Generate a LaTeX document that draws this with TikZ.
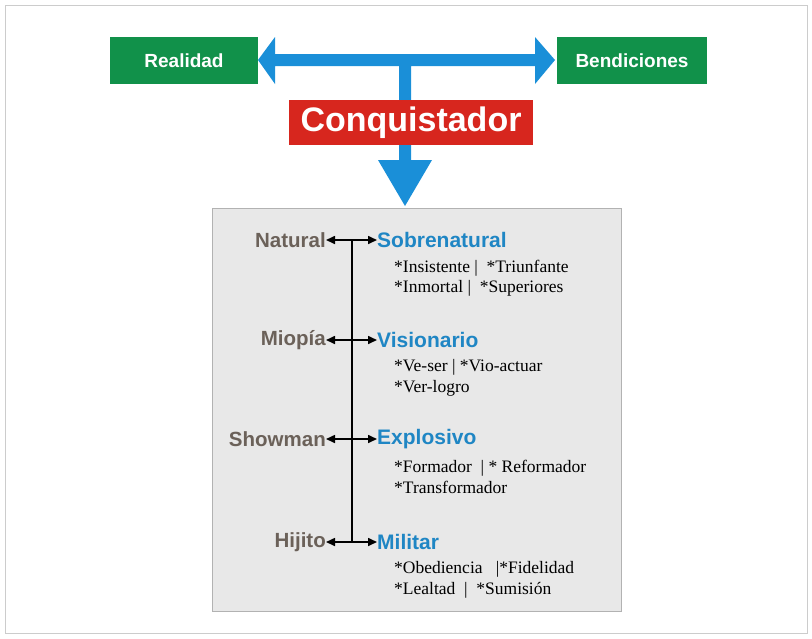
\documentclass[tikz,border=0pt]{standalone}
\usepackage{fontspec}
\setmainfont{Liberation Serif}
\setsansfont{Liberation Sans}
\usetikzlibrary{arrows.meta}
\definecolor{gr}{HTML}{11914A}
\definecolor{rd}{HTML}{D7261E}
\definecolor{bl}{HTML}{1A8FD8}
\definecolor{tb}{HTML}{1F86C4}
\definecolor{br}{HTML}{6B6159}
\begin{document}
\begin{tikzpicture}[x=1pt,y=-1pt,
  gbox/.style={fill=gr,text=white,font=\sffamily\bfseries\fontsize{19}{21}\selectfont,minimum width=148pt,minimum height=47pt,inner sep=0pt},
  lab/.style={anchor=east,text=br,font=\sffamily\bfseries\fontsize{20.5}{22}\selectfont,inner sep=0pt},
  rlab/.style={anchor=west,text=tb,font=\sffamily\bfseries\fontsize{21}{22}\selectfont,inner sep=0pt},
  sub/.style={anchor=west,font=\fontsize{17.5}{20.5}\selectfont,align=left,inner sep=0pt},
  dbl/.style={-{Triangle[length=9pt,width=8pt]},line width=1.6pt}]
\useasboundingbox (0,0) rectangle (812,638);
\draw[gray!40] (5,5) rectangle (807,633);
\node[gbox] (real) at (184,60.5) {Realidad};
\node[gbox,minimum width=150pt] (bend) at (632,60.5) {Bendiciones};
\fill[bl] (405,54) -- (275,54) -- (275,37) -- (258,60) -- (275,84) -- (275,66) -- (399,66) -- (399,160) -- (378,160) -- (405,206) -- (432,160) -- (411,160) -- (411,66) -- (535,66) -- (535,84) -- (555,60) -- (535,37) -- (535,54) -- cycle;
\node[fill=rd,text=white,font=\sffamily\bfseries\fontsize{34}{36}\selectfont,minimum width=244pt,minimum height=45pt,inner sep=0pt] (conq) at (411,122.5) {Conquistador};
\node[draw=gray!60,fill=gray!18,minimum width=409pt,minimum height=403pt,inner sep=0pt] (panel) at (416.5,409.5) {};
\coordinate (vt) at (352,240);
\coordinate (vb) at (352,542);
\draw[line width=1.8pt] (vt) -- (vb);
\foreach \y/\l/\r/\a/\b [count=\i] in {240/Natural/Sobrenatural/{*Insistente |\ \ *Triunfante}/{*Inmortal |\ \ *Superiores},340/Miopía/Visionario/{*Ve-ser | *Vio-actuar}/{*Ver-logro},439/Showman/Explosivo/{*Formador\ \ | * Reformador}/{*Transformador},542/Hijito/Militar/{*Obediencia\ \ \ |*Fidelidad}/{*Lealtad\ \ |\ \ *Sumisión}}{
  \node[lab] (l\i) at (326,\y) {\l};
  \node[rlab] (r\i) at (377,\y) {\r};
  \coordinate (m\i) at (352,\y);
  \draw[dbl] (m\i) -- (l\i.east);
  \draw[dbl] (m\i) -- (r\i.west);
  \node[sub] (s\i) at (394,\y+38) {\a\\\b};
}
\end{tikzpicture}
\end{document}
